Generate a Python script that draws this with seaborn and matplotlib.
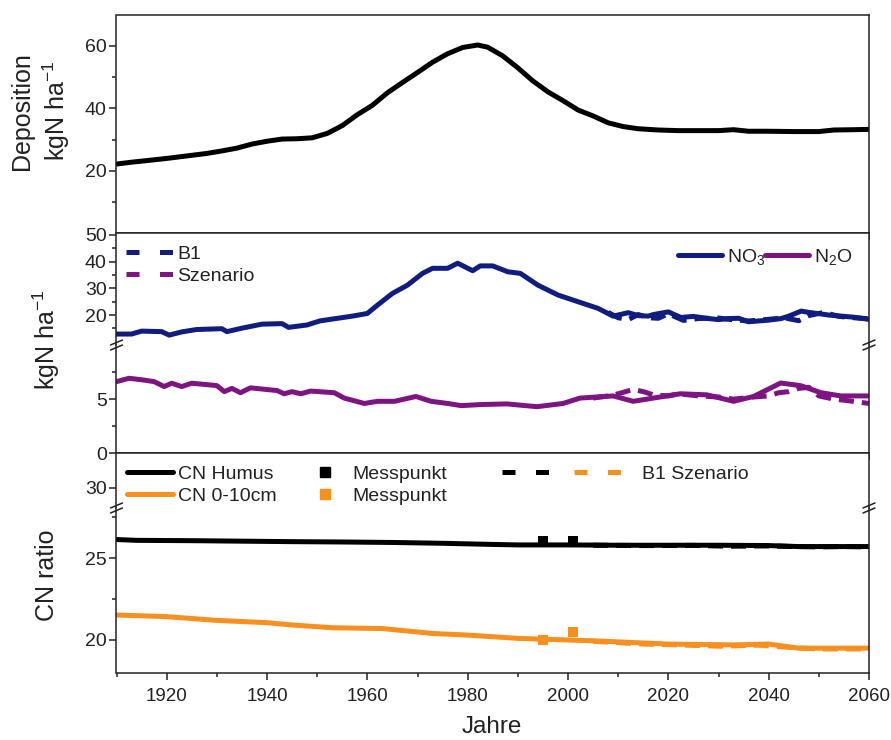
import numpy as np
import pandas as pd
import matplotlib
matplotlib.use("Agg")
import matplotlib.pyplot as plt
import seaborn as sns
from matplotlib.lines import Line2D
from matplotlib.legend_handler import HandlerTuple
from matplotlib.ticker import MultipleLocator, FixedLocator

# ---------------- data ----------------
dep_years = [1910, 1913, 1916, 1920, 1924, 1928, 1931, 1934, 1937, 1940, 1943, 1946, 1949,
             1952, 1955, 1958, 1961, 1964, 1967, 1970, 1973, 1976, 1979, 1982, 1984, 1987,
             1990, 1993, 1996, 1999, 2002, 2005, 2008, 2011, 2014, 2018, 2022, 2026, 2030,
             2033, 2036, 2040, 2045, 2050, 2053, 2057, 2060]
dep_vals = [22.2, 22.8, 23.3, 24.0, 24.8, 25.6, 26.4, 27.3, 28.6, 29.5, 30.2, 30.3, 30.6,
            32.0, 34.5, 38.0, 41.0, 45.0, 48.3, 51.5, 54.8, 57.5, 59.5, 60.3, 59.6, 56.8,
            53.0, 48.8, 45.3, 42.5, 39.5, 37.6, 35.4, 34.2, 33.5, 33.1, 32.9, 32.9, 32.9,
            33.2, 32.7, 32.7, 32.6, 32.6, 33.1, 33.2, 33.3]

no3_years = [1910, 1913, 1915, 1919, 1920.5, 1923, 1926, 1931, 1932, 1935, 1939, 1943, 1944.3,
             1948, 1950.5, 1953, 1957, 1960, 1962, 1965, 1968, 1971, 1973, 1976, 1978, 1981,
             1982.5, 1985, 1988, 1990.5, 1994, 1998, 2002, 2006, 2009, 2012, 2014, 2016,
             2017, 2020, 2022.5, 2025, 2028, 2030, 2032, 2034, 2036, 2038, 2040, 2042.5,
             2044, 2046.5, 2048, 2050.5, 2052, 2054.5, 2057, 2060]
no3_vals = [12.9, 12.9, 14.0, 13.8, 12.5, 13.7, 14.6, 14.9, 13.8, 15.1, 16.6, 16.8, 15.4,
            16.3, 17.8, 18.5, 19.6, 20.6, 23.7, 28.1, 31.2, 35.6, 37.5, 37.5, 39.4, 36.6,
            38.4, 38.4, 36.2, 35.6, 31.2, 27.5, 25.0, 22.5, 19.6, 20.9, 19.8, 19.6,
            20.2, 21.2, 19.1, 19.5, 18.7, 18.3, 18.7, 18.8, 17.5, 17.8, 18.1, 18.7,
            19.6, 21.5, 21.0, 20.4, 20.0, 19.6, 19.2, 18.4]
no3_b1_years = [2008, 2010, 2012, 2014, 2016, 2018, 2020, 2023, 2026, 2030, 2033, 2036, 2040,
                2043, 2046, 2048, 2051, 2054, 2057, 2060]
no3_b1_vals = [21.0, 19.0, 18.3, 20.2, 19.0, 18.8, 20.5, 18.0, 18.7, 18.9, 18.2, 17.8, 18.4,
               19.0, 17.9, 19.8, 21.0, 19.5, 19.0, 18.6]

n2o_years = [1910, 1912.5, 1915, 1917.5, 1919.5, 1921, 1923, 1925, 1930, 1931.5, 1933, 1934.7,
             1936.7, 1942, 1943.4, 1945, 1946.7, 1948.7, 1953.4, 1955.4, 1959.4, 1962, 1965.4,
             1969.7, 1972.7, 1976, 1978.7, 1982.7, 1987.8, 1993.8, 1999, 2002.4, 2009, 2013,
             2017, 2022.4, 2027.7, 2033, 2037, 2042.4, 2046.4, 2050.4, 2054.4, 2060]
n2o_vals = [6.63, 6.94, 6.8, 6.63, 6.17, 6.48, 6.17, 6.48, 6.26, 5.7, 6.0, 5.6,
            6.05, 5.8, 5.5, 5.7, 5.5, 5.75, 5.6, 5.1, 4.6, 4.8, 4.8,
            5.25, 4.8, 4.6, 4.4, 4.5, 4.56, 4.3, 4.6, 5.1, 5.3, 4.8,
            5.1, 5.5, 5.4, 4.8, 5.25, 6.5, 6.25, 5.6, 5.3, 5.3]
n2o_b1_years = [2005, 2008, 2010, 2013, 2015, 2017, 2020, 2022, 2026, 2030, 2033, 2037, 2040,
                2042, 2044, 2046, 2048, 2050, 2053, 2056, 2060]
n2o_b1_vals = [5.1, 5.3, 5.5, 5.9, 5.7, 5.4, 5.3, 5.5, 5.3, 5.2, 5.0, 5.2, 5.3,
               5.6, 5.7, 6.0, 6.1, 5.3, 5.0, 4.85, 4.6]

hum_years = [1910, 1914, 1925, 1935, 1945, 1955, 1965, 1975, 1985, 1990, 2000, 2010, 2020,
             2030, 2040, 2046, 2060]
hum_vals = [26.15, 26.1, 26.08, 26.05, 26.02, 26.0, 25.97, 25.92, 25.85, 25.82, 25.82, 25.8,
            25.8, 25.8, 25.78, 25.72, 25.72]
hum_b1_years = [2005, 2015, 2025, 2032, 2040, 2045, 2050, 2055, 2060]
hum_b1_vals = [25.8, 25.78, 25.79, 25.74, 25.76, 25.72, 25.7, 25.72, 25.7]

top_years = [1910, 1920, 1930, 1940, 1945, 1953, 1963, 1973, 1980, 1990, 2000, 2006, 2020,
             2033, 2040, 2046, 2060]
top_vals = [21.53, 21.43, 21.2, 21.06, 20.92, 20.75, 20.7, 20.4, 20.3, 20.1, 20.0, 19.94,
            19.75, 19.7, 19.75, 19.5, 19.5]
top_b1_years = [2005, 2015, 2022, 2030, 2038, 2044, 2050, 2055, 2060]
top_b1_vals = [19.92, 19.75, 19.7, 19.62, 19.68, 19.55, 19.45, 19.45, 19.45]

mess_years = [1995, 2001]
mess_humus = [26.06, 26.06]
mess_top = [20.0, 20.5]

# ---------------- style ----------------
sns.set_theme(style="ticks")
plt.rcParams['font.family'] = ['Liberation Sans', 'DejaVu Sans']
plt.rcParams['mathtext.fontset'] = 'custom'
plt.rcParams['mathtext.rm'] = 'Liberation Sans'
plt.rcParams['mathtext.it'] = 'Liberation Sans:italic'
plt.rcParams['mathtext.bf'] = 'Liberation Sans:bold'

NAVY = "#101c80"
PURP = "#7d1482"
ORNG = "#f7901e"
BLK = "#000000"
TXT = "#222222"
LW = 3.6
DASH = (0, (3, 1.6))

W_PX, H_PX = 891, 740
fig = plt.figure(figsize=(W_PX / 100, H_PX / 100), dpi=100)
L_PX, R_PX = 116.5, 869


def rect(top_px, bot_px):
    return [L_PX / W_PX, 1 - bot_px / H_PX, (R_PX - L_PX) / W_PX, (bot_px - top_px) / H_PX]


ax_top = fig.add_axes(rect(15, 232.5))
ax_mu = fig.add_axes(rect(232.5, 345))
ax_ml = fig.add_axes(rect(345, 453))
ax_bu = fig.add_axes(rect(453, 508))
ax_bl = fig.add_axes(rect(508, 673))


def style(ax, xticks=True, xlabels=False, top=True, bottom=True):
    ax.set_facecolor("white")
    ax.set_xlim(1910, 2060)
    ax.xaxis.set_major_locator(MultipleLocator(20))
    ax.xaxis.set_minor_locator(MultipleLocator(10))
    ax.tick_params(axis='both', which='both', direction='out', top=False, right=False,
                   colors='#222222', width=1.1)
    ax.tick_params(which='major', length=5)
    ax.tick_params(which='minor', length=3)
    ax.tick_params(axis='y', labelsize=14, pad=2)
    ax.tick_params(axis='x', labelsize=13.5, pad=6)
    if not xticks:
        ax.tick_params(axis='x', which='both', bottom=False)
    if not xlabels:
        ax.tick_params(axis='x', which='both', labelbottom=False)
    for s in ax.spines.values():
        s.set_linewidth(1.1)
        s.set_color('#222222')
    ax.spines['top'].set_visible(top)
    ax.spines['bottom'].set_visible(bottom)
    ax.set_xlabel("")
    ax.set_ylabel("")


# ---- top panel ----
sns.lineplot(x=dep_years, y=dep_vals, ax=ax_top, color=BLK, lw=LW, estimator=None)
ax_top.set_ylim(0.3, 69.9)
ax_top.yaxis.set_major_locator(FixedLocator([20, 40, 60]))
ax_top.yaxis.set_minor_locator(FixedLocator([10, 30, 50]))
style(ax_top)

# ---- middle panel ----
for ax in (ax_mu, ax_ml):
    sns.lineplot(x=no3_b1_years, y=no3_b1_vals, ax=ax, color=NAVY, lw=LW, linestyle=DASH, estimator=None)
    sns.lineplot(x=no3_years, y=no3_vals, ax=ax, color=NAVY, lw=LW, estimator=None)
    sns.lineplot(x=n2o_b1_years, y=n2o_b1_vals, ax=ax, color=PURP, lw=LW, linestyle=DASH, estimator=None)
    sns.lineplot(x=n2o_years, y=n2o_vals, ax=ax, color=PURP, lw=LW, estimator=None)
ax_mu.set_ylim(8.8, 50.9)
ax_mu.yaxis.set_major_locator(FixedLocator([20, 30, 40, 50]))
ax_mu.yaxis.set_minor_locator(FixedLocator([15, 25, 35, 45]))
style(ax_mu, xticks=False, bottom=False)
ax_ml.set_ylim(0, 10.03)
ax_ml.yaxis.set_major_locator(FixedLocator([0, 5]))
ax_ml.yaxis.set_minor_locator(FixedLocator([2.5, 7.5]))
style(ax_ml, top=False)

# ---- bottom panel ----
for ax in (ax_bu, ax_bl):
    sns.lineplot(x=hum_b1_years, y=hum_b1_vals, ax=ax, color=BLK, lw=LW, linestyle=DASH, estimator=None)
    sns.lineplot(x=hum_years, y=hum_vals, ax=ax, color=BLK, lw=LW, estimator=None)
    sns.lineplot(x=top_b1_years, y=top_b1_vals, ax=ax, color=ORNG, lw=LW, linestyle=DASH, estimator=None)
    sns.lineplot(x=top_years, y=top_vals, ax=ax, color=ORNG, lw=LW, estimator=None)
    sns.scatterplot(x=mess_years, y=mess_humus, ax=ax, color=BLK, marker='s', s=55, linewidth=0, zorder=5)
    sns.scatterplot(x=mess_years, y=mess_top, ax=ax, color=ORNG, marker='s', s=55, linewidth=0, zorder=5)
ax_bu.set_ylim(28.0, 33.4)
ax_bu.yaxis.set_major_locator(FixedLocator([30]))
ax_bu.yaxis.set_minor_locator(FixedLocator([]))
style(ax_bu, xticks=False, bottom=False)
ax_bl.set_ylim(17.98, 28.08)
ax_bl.yaxis.set_major_locator(FixedLocator([20, 25]))
ax_bl.yaxis.set_minor_locator(FixedLocator([22.5, 27.5]))
style(ax_bl, xlabels=True, top=False)


# ---- break marks ----
def brk(x_px, y_px):
    for off in (-2.5, 2.5):
        xs = [(x_px - 6) / W_PX, (x_px + 6) / W_PX]
        ys = [1 - (y_px + off + 2.5) / H_PX, 1 - (y_px + off - 2.5) / H_PX]
        fig.add_artist(Line2D(xs, ys, color='#222222', lw=1.1, transform=fig.transFigure))


for yb in (345, 508):
    brk(L_PX, yb)
    brk(R_PX, yb)

# ---- axis labels ----
fig.text(22 / W_PX, 1 - 111 / H_PX, "Deposition", rotation=90, ha='center', va='center',
         fontsize=18, color=TXT)
fig.text(56 / W_PX, 1 - 111 / H_PX, "kgN ha$^{-1}$", rotation=90, ha='center', va='center',
         fontsize=18, color=TXT)
fig.text(46 / W_PX, 1 - 340 / H_PX, "kgN ha$^{-1}$", rotation=90, ha='center', va='center',
         fontsize=18, color=TXT)
fig.text(47 / W_PX, 1 - 575 / H_PX, "CN ratio", rotation=90, ha='center', va='center',
         fontsize=18, color=TXT)
fig.text(492 / W_PX, 1 - 727 / H_PX, "Jahre", ha='center', va='center', fontsize=17.5, color=TXT)

# ---- legends ----
leg_kw = dict(frameon=False, fontsize=14, borderpad=0, borderaxespad=0, loc='upper left',
              bbox_transform=fig.transFigure, labelcolor=TXT)
LDASH = (0, (2.6, 4.1))

h_b1 = Line2D([], [], color=NAVY, lw=LW, linestyle=LDASH)
h_sz = Line2D([], [], color=PURP, lw=LW, linestyle=LDASH)
fig.legend([h_b1, h_sz], ["B1", "Szenario"], bbox_to_anchor=(126 / W_PX, 1 - 245 / H_PX),
           handlelength=2.4, handletextpad=0.25, labelspacing=0.25, **leg_kw)

h_no3 = Line2D([], [], color=NAVY, lw=LW)
h_n2o = Line2D([], [], color=PURP, lw=LW)
fig.legend([h_no3, h_n2o], ["NO$_3$", "N$_2$O"], bbox_to_anchor=(678 / W_PX, 1 - 247 / H_PX),
           ncol=2, handlelength=2.25, handletextpad=0.25, columnspacing=0.0, **leg_kw)

h_hum = Line2D([], [], color=BLK, lw=LW)
h_top = Line2D([], [], color=ORNG, lw=LW)
fig.legend([h_hum, h_top], ["CN Humus", "CN 0-10cm"], bbox_to_anchor=(127 / W_PX, 1 - 465 / H_PX),
           handlelength=2.35, handletextpad=0.25, labelspacing=0.25, **leg_kw)

h_mh = Line2D([], [], color=BLK, marker='s', markersize=6.5, linestyle='none')
h_mt = Line2D([], [], color=ORNG, marker='s', markersize=6.5, linestyle='none')
fig.legend([h_mh, h_mt], ["Messpunkt", "Messpunkt"], bbox_to_anchor=(315 / W_PX, 1 - 465 / H_PX),
           handlelength=1.0, handletextpad=0.9, labelspacing=0.25, **leg_kw)

h_bd = Line2D([], [], color=BLK, lw=LW, linestyle=LDASH)
h_od = Line2D([], [], color=ORNG, lw=LW, linestyle=LDASH)
fig.legend([(h_bd, h_od)], ["B1 Szenario"], bbox_to_anchor=(502 / W_PX, 1 - 465 / H_PX),
           handler_map={tuple: HandlerTuple(ndivide=None, pad=1.2)},
           handlelength=6.2, handletextpad=1.0, **leg_kw)

fig.savefig("out.png", dpi=100, facecolor="white")
